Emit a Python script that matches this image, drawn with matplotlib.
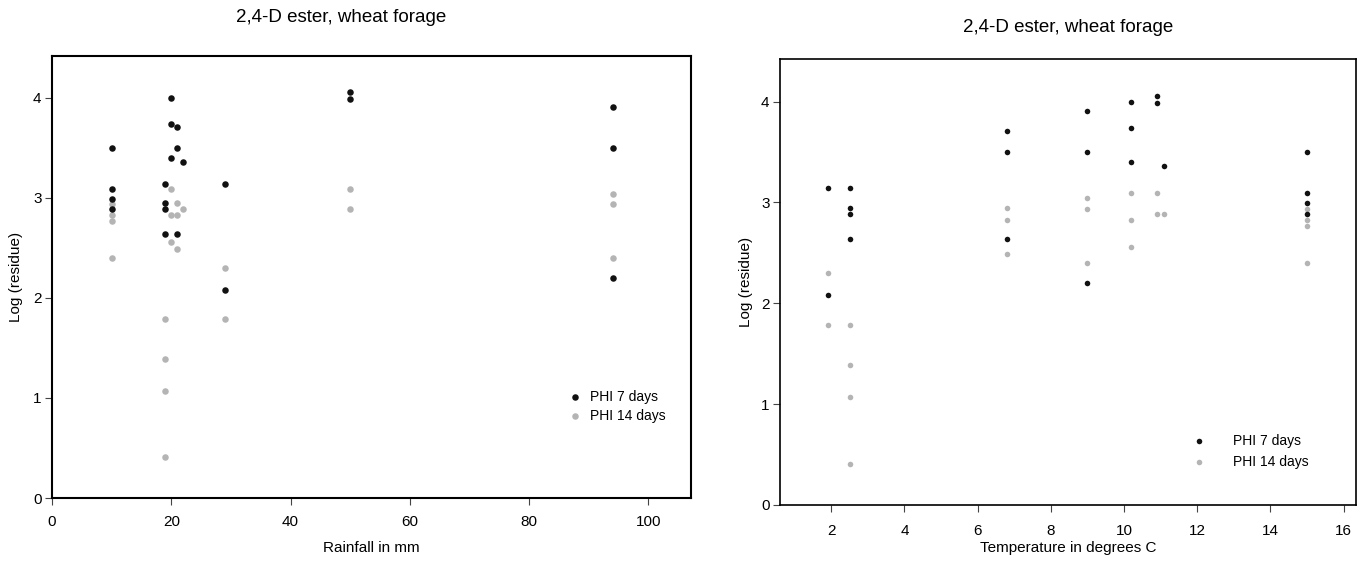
import matplotlib
matplotlib.use("Agg")
import matplotlib.pyplot as plt

plt.rcParams['font.family'] = ['Liberation Sans', 'DejaVu Sans']

# one entry per sample: rainfall (mm), temperature (C), log residue at PHI 7 / 14 days
rainfall = [10, 10, 10, 10, 19, 19, 19, 19, 20, 20, 20, 21, 21, 21,
            22, 29, 29, 50, 50, 94, 94, 94]
temperature = [15.0, 15.0, 15.0, 15.0, 2.5, 2.5, 2.5, 2.5, 10.2, 10.2, 10.2,
               6.8, 6.8, 6.8, 11.1, 1.9, 1.9, 10.9, 10.9, 9.0, 9.0, 9.0]
phi7 = [3.50, 3.09, 2.99, 2.89, 3.14, 2.95, 2.89, 2.64, 4.00, 3.74, 3.40,
        3.71, 3.50, 2.64, 3.36, 3.14, 2.08, 4.06, 3.99, 3.91, 3.50, 2.20]
phi14 = [2.94, 2.83, 2.77, 2.40, 1.79, 1.39, 1.07, 0.41, 3.09, 2.83, 2.56,
         2.95, 2.83, 2.49, 2.89, 2.30, 1.79, 3.09, 2.89, 3.04, 2.94, 2.40]

title = "2,4-D ester, wheat forage"
black = '#111111'
grey = '#b4b4b4'

W, H = 1369, 568
fig = plt.figure(figsize=(W / 100, H / 100), dpi=100)

def frac(l, t, r, b):
    return [l / W, 1 - b / H, (r - l) / W, (b - t) / H]

ax1 = fig.add_axes(frac(52, 55.7, 690.7, 498))
ax2 = fig.add_axes(frac(780, 59.3, 1355.7, 505))


def panel(ax, x, s, lw, xlim, xticks, xlabel, tpad, title_x, title_pad,
          xl_y, yl_x, leg_xy, textpad, spacing):
    g = ax.scatter(x, phi14, s=s, color=grey, linewidths=0, zorder=2)
    k = ax.scatter(x, phi7, s=s, color=black, linewidths=0, zorder=3)
    ax.set_xlim(*xlim)
    ax.set_ylim(0, 4.42)
    ax.set_xticks(xticks)
    ax.set_yticks([0, 1, 2, 3, 4])
    for sp in ax.spines.values():
        sp.set_linewidth(lw)
        sp.set_color('black')
    ax.tick_params(axis='both', direction='out', length=5, width=0.8,
                   color='#444444', labelsize=11)
    ax.tick_params(axis='x', pad=tpad)
    ax.tick_params(axis='y', pad=2.5)
    ax.set_xlabel(xlabel, fontsize=11)
    ax.set_ylabel("Log (residue)", fontsize=11)
    ax.xaxis.set_label_coords(0.5, xl_y)
    ax.xaxis.label.set_va('center')
    ax.yaxis.set_label_coords(yl_x, 0.5)
    ax.yaxis.label.set_va('center')
    ax.set_title(title, fontsize=13.5, x=title_x, pad=title_pad)
    ax.legend([k, g], ["PHI 7 days", "PHI 14 days"], loc='center left',
              bbox_to_anchor=leg_xy, frameon=False, fontsize=10,
              handlelength=0.5, handletextpad=textpad, labelspacing=spacing,
              borderpad=0, borderaxespad=0, scatterpoints=1)


panel(ax1, rainfall, 22, 1.5, (0, 107.1), [0, 20, 40, 60, 80, 100],
      "Rainfall in mm", 7, 0.4525, 24, -0.113, -0.0564,
      (0.8134, 0.207), 0.83, 0.37)
panel(ax2, temperature, 16, 1.2, (0.6, 16.33), [2, 4, 6, 8, 10, 12, 14, 16],
      "Temperature in degrees C", 9, 0.5, 19.6, -0.0965, -0.059,
      (0.7217, 0.120), 2.2, 0.51)

fig.savefig("out.png", dpi=100)
